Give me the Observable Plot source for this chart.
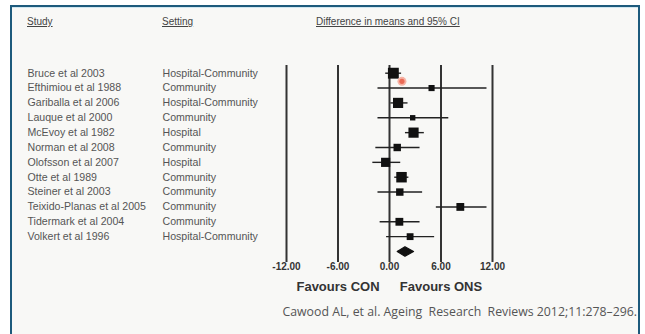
<!DOCTYPE html>
<html>
<head>
<meta charset="utf-8">
<script src="https://cdn.jsdelivr.net/npm/d3@7"></script>
<script src="https://cdn.jsdelivr.net/npm/@observablehq/plot@0.6"></script>
<style>
  html, body { margin: 0; padding: 0; background: #ffffff; }
  #page { position: relative; width: 645px; height: 334px; overflow: hidden; }
  #frame { position: absolute; left: 10px; top: 5px; width: 626px; height: 340px;
           background: #f8f8f6; border-top: 2px solid #1d5a7c; border-left: 2px solid #1d5a7c;
           border-right: 2px solid #1d5a7c; box-shadow: inset 0 1px 0 #cfe6f0; }
  .hdr { position: absolute; top: 16px; font: 10px "Liberation Sans", Arial, sans-serif;
         color: #444; text-decoration: underline; line-height: 12px; white-space: nowrap; }
  #cite { position: absolute; right: 8px; top: 304px; font: 12.3px "Open Sans", sans-serif;
          color: #555; line-height: 16px; white-space: nowrap; }
  #chart { position: absolute; left: 0; top: 0; }
</style>
</head>
<body>
<div id="page">
  <div id="frame"></div>
  <div class="hdr" style="left:27px">Study</div>
  <div class="hdr" style="left:162px">Setting</div>
  <div class="hdr" style="left:316px">Difference in means and 95% CI</div>
  <div id="chart"></div>
  <div id="cite">Cawood AL, et al. Ageing&nbsp; Research&nbsp; Reviews 2012;11:278–296.</div>
</div>
<script>
const studies = ["Bruce et al 2003", "Efthimiou et al 1988", "Gariballa et al 2006", "Lauque et al 2000",
  "McEvoy et al 1982", "Norman et al 2008", "Olofsson et al 2007", "Otte et al 1989",
  "Steiner et al 2003", "Teixido-Planas et al 2005", "Tidermark et al 2004", "Volkert et al 1996"];
const settings = ["Hospital-Community", "Community", "Hospital-Community", "Community",
  "Hospital", "Community", "Hospital", "Community",
  "Community", "Community", "Community", "Hospital-Community"];
const estimates = [0.45, 4.9, 1.0, 2.7, 2.8, 0.9, -0.45, 1.4, 1.2, 8.25, 1.15, 2.4];
const lower     = [-0.5, -1.4, 0.1, -1.4, 1.8, -1.65, -2.0, 0.55, -1.4, 5.4, -1.15, -0.4];
const upper     = [1.35, 11.3, 2.1, 6.85, 4.0, 3.5, 1.25, 2.2, 3.8, 11.3, 3.5, 5.2];
const weights   = [11.4, 3.6, 10, 2.8, 10, 5.3, 8.1, 10.6, 5.3, 5.9, 5.9, 4.5];
const summaryEstimate = 1.8, summaryLower = 0.9, summaryUpper = 2.8;
const tickValues = [-12, -6, 0, 6, 12];
const favourLabels = [{x: -6, text: "Favours CON"}, {x: 6, text: "Favours ONS"}];
const pointer = [{x: 1.45, row: 0.55}];

const rows = studies.map((s, i) => ({study: s, setting: settings[i], est: estimates[i],
  lo: lower[i], hi: upper[i], w: weights[i], row: i}));
const summaryRow = studies.length;
const diamond = [
  {x: summaryLower, y: summaryRow}, {x: summaryEstimate, y: summaryRow - 0.32},
  {x: summaryUpper, y: summaryRow}, {x: summaryEstimate, y: summaryRow + 0.32},
  {x: summaryLower, y: summaryRow}
];

const chart = Plot.plot({
  width: 645, height: 334,
  marginLeft: 286, marginRight: 153, marginTop: 65, marginBottom: 72,
  x: {domain: [-12, 12], axis: null},
  y: {domain: [0, summaryRow], range: [72.7, 251], axis: null},
  r: {type: "sqrt", domain: [0, 12], range: [0, 6.3]},
  style: {background: "transparent", fontFamily: "'Liberation Sans', Arial, sans-serif"},
  marks: [
    Plot.ruleX(tickValues, {stroke: "#333", strokeWidth: 2}),
    Plot.link(rows, {x1: "lo", x2: "hi", y1: "row", y2: "row", stroke: "#222", strokeWidth: 1.4}),
    Plot.dot(rows, {x: "est", y: "row", r: "w", symbol: "square", fill: "#111", stroke: "none"}),
    Plot.line(diamond, {x: "x", y: "y", fill: "#111", stroke: "#111", strokeWidth: 1.2}),
    Plot.dot(pointer, {x: "x", y: "row", r: 4.5, fill: "#f6b3a5", stroke: "none"}),
    Plot.dot(pointer, {x: "x", y: "row", r: 2.6, fill: "#ea6a55", stroke: "none"}),
    Plot.text(rows, {y: "row", text: "study", frameAnchor: "left", dx: -259, textAnchor: "start",
      fontSize: 10.6, fill: "#555"}),
    Plot.text(rows, {y: "row", text: "setting", frameAnchor: "left", dx: -124, textAnchor: "start",
      fontSize: 10.6, fill: "#555"}),
    Plot.text(tickValues, {x: d => d, text: d => d.toFixed(2), frameAnchor: "bottom", dy: 7,
      fontSize: 10, fontWeight: "bold", fill: "#333"}),
    Plot.text(favourLabels, {x: "x", text: "text", frameAnchor: "bottom", dy: 28,
      fontSize: 13, fontWeight: "bold", fill: "#333"})
  ]
});
document.getElementById("chart").appendChild(chart);
</script>
</body>
</html>
